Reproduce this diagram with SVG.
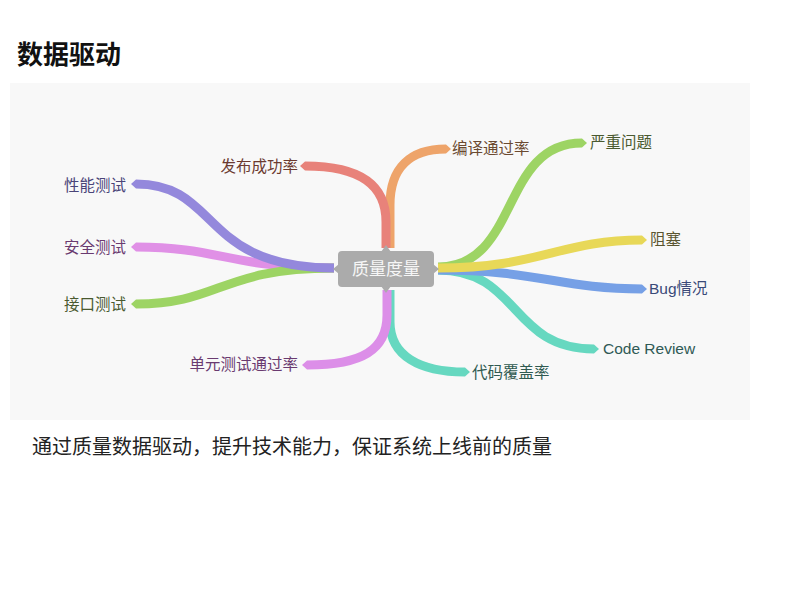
<svg xmlns="http://www.w3.org/2000/svg" width="800" height="600" viewBox="0 0 800 600">
<style>
.br{fill:none;stroke-width:9;stroke-linecap:butt}
.lbl{font-family:"Liberation Sans","Noto Sans CJK SC",sans-serif;font-size:15.5px}
.r{text-anchor:end}
</style>
<rect width="800" height="600" fill="#ffffff"/>
<text x="17" y="64" font-family="'Noto Sans CJK SC',sans-serif" font-size="26" font-weight="bold" fill="#111">数据驱动</text>
<rect x="10" y="83" width="740" height="337" fill="#f8f8f8"/>
<g id="connectors">
<path class="br" stroke="#eea46a" d="M390,248 L390,205 C390,168 410,149 446,149"/>
<polygon fill="#eea46a" points="446,144.5 451,149 446,153.5"/>
<path class="br" stroke="#e8827a" d="M305,166 C360,166 386,185 386,222 L386,248"/>
<polygon fill="#e8827a" points="305,161.5 300,166 305,170.5"/>
<path class="br" stroke="#e090e6" d="M136,247 C220,247 230,268 334,268"/>
<polygon fill="#e090e6" points="136,242.5 131,247 136,251.5"/>
<path class="br" stroke="#9dd464" d="M136,304 C220,304 220,268 334,268"/>
<polygon fill="#9dd464" points="136,299.5 131,304 136,308.5"/>
<path class="br" stroke="#9488dc" d="M136,184 C220,184 200,268 334,268"/>
<polygon fill="#9488dc" points="136,179.5 131,184 136,188.5"/>
<path class="br" stroke="#66d8c0" d="M390,290 L390,322 C390,356 420,372 465,372"/>
<polygon fill="#66d8c0" points="465,367.5 470,372 465,376.5"/>
<path class="br" stroke="#dc8ee8" d="M307,365 C362,365 387,350 387,315 L387,290"/>
<polygon fill="#dc8ee8" points="307,360.5 302,365 307,369.5"/>
<path class="br" stroke="#9dd464" d="M438,267 C520,267 500,143 582,143"/>
<polygon fill="#9dd464" points="582,138.5 587,143 582,147.5"/>
<path class="br" stroke="#66d8c0" d="M438,270 C520,270 510,349 594,349"/>
<polygon fill="#66d8c0" points="594,344.5 599,349 594,353.5"/>
<path class="br" stroke="#76a0e6" d="M438,270 C540,270 560,289 642,289"/>
<polygon fill="#76a0e6" points="642,284.5 647,289 642,293.5"/>
<path class="br" stroke="#e8d858" d="M438,268 C540,268 560,240 642,240"/>
<polygon fill="#e8d858" points="642,235.5 647,240 642,244.5"/>
</g>
<g id="center">
<rect x="338" y="251" width="96" height="36" rx="4" fill="#ababab"/>
<polygon fill="#ababab" points="381,252 386,245 391,252"/>
<polygon fill="#ababab" points="381,286 386,293 391,286"/>
<polygon fill="#ababab" points="339,264 333,269 339,274"/>
<polygon fill="#ababab" points="433,264 439,269 433,274"/>
<text x="386" y="275" text-anchor="middle" font-family="'Noto Sans CJK SC',sans-serif" font-size="17" fill="#f6f6f6">质量度量</text>
</g>
<g id="n-fabu"><text class="lbl r" x="298" y="172" fill="#6b3a30">发布成功率</text></g>
<g id="n-xingneng"><text class="lbl r" x="126" y="191" fill="#4a4478">性能测试</text></g>
<g id="n-anquan"><text class="lbl r" x="126" y="253" fill="#6a3a70">安全测试</text></g>
<g id="n-jiekou"><text class="lbl r" x="126" y="310" fill="#4a5a30">接口测试</text></g>
<g id="n-danyuan"><text class="lbl r" x="298" y="370" fill="#6a3a70">单元测试通过率</text></g>
<g id="n-bianyi"><text class="lbl" x="452" y="154" fill="#6b4a30">编译通过率</text></g>
<g id="n-yanzhong"><text class="lbl" x="590" y="148" fill="#4a5a30">严重问题</text></g>
<g id="n-zuse"><text class="lbl" x="650" y="245" fill="#5a5530">阻塞</text></g>
<g id="n-bug"><text class="lbl" x="649" y="294" fill="#3a4a78">Bug情况</text></g>
<g id="n-cr"><text class="lbl" x="603" y="354" fill="#2f5a55" font-size="16">Code Review</text></g>
<g id="n-daima"><text class="lbl" x="472" y="378" fill="#2f5a50">代码覆盖率</text></g>
<text x="32" y="454" font-family="'Noto Sans CJK SC',sans-serif" font-size="20" fill="#222">通过质量数据驱动，提升技术能力，保证系统上线前的质量</text>
</svg>
